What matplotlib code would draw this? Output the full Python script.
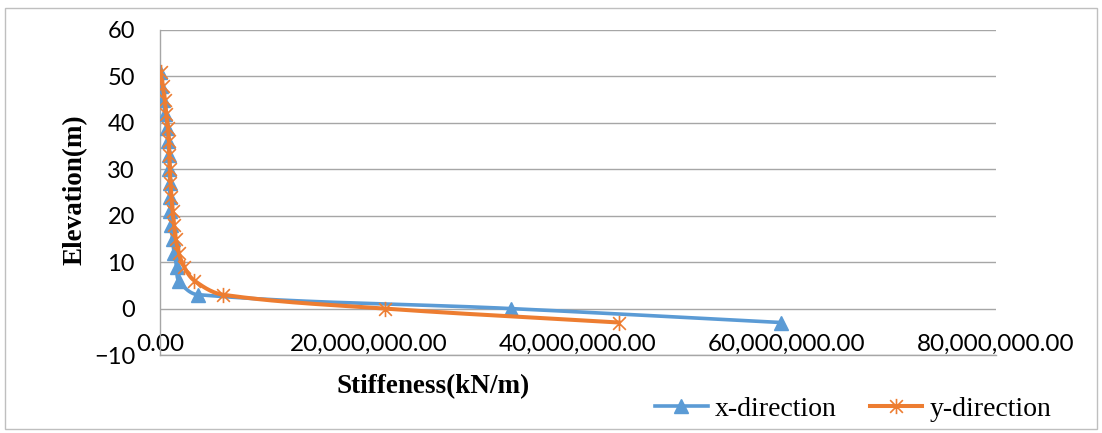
import matplotlib.pyplot as plt
import numpy as np
from matplotlib.path import Path
from matplotlib.patches import Rectangle
from matplotlib.ticker import FuncFormatter

# Elevation of each level (m)
elevation = [-3, 0, 3, 6, 9, 12, 15, 18, 21, 24, 27, 30, 33, 36, 39, 42, 45, 48, 51]

# Stiffness (kN/m)
x_dir = [59.4e6, 33.6e6, 3.6e6, 1.8e6, 1.6e6, 1.35e6, 1.2e6, 1.1e6, 1.0e6, 0.95e6,
         0.93e6, 0.9e6, 0.85e6, 0.8e6, 0.7e6, 0.5e6, 0.3e6, 0.1e6, 0.0]
y_dir = [43.9e6, 21.5e6, 6.0e6, 3.3e6, 2.3e6, 1.8e6, 1.5e6, 1.35e6, 1.2e6, 1.1e6,
         1.0e6, 0.95e6, 0.9e6, 0.85e6, 0.75e6, 0.6e6, 0.45e6, 0.25e6, 0.05e6]

x_ticks = [0, 20e6, 40e6, 60e6, 80e6]
y_ticks = [-10, 0, 10, 20, 30, 40, 50, 60]

BLUE = '#5B9BD5'
ORANGE = '#ED7D31'
GRID = '#A6A6A6'

AX_W, AX_H = 836, 325  # plot area in pixels


def smooth(xs, ys, n=24):
    # Excel-like smoothed line, worked out in screen units
    kx = AX_W / 80e6
    ky = AX_H / 70.0
    p = np.column_stack([np.asarray(xs) * kx, np.asarray(ys) * ky])
    out = []
    for i in range(len(p) - 1):
        p0 = p[max(i - 1, 0)]
        p1 = p[i]
        p2 = p[i + 1]
        p3 = p[min(i + 2, len(p) - 1)]
        d = np.linalg.norm(p2 - p1) / 3
        t1 = p2 - p0
        t2 = p3 - p1
        c1 = p1 + t1 / (np.linalg.norm(t1) or 1) * d
        c2 = p2 - t2 / (np.linalg.norm(t2) or 1) * d
        t = np.linspace(0, 1, n)[:, None]
        seg = ((1 - t) ** 3) * p1 + 3 * ((1 - t) ** 2) * t * c1 + 3 * (1 - t) * t ** 2 * c2 + t ** 3 * p2
        out.append(seg)
    seg = np.vstack(out)
    return seg[:, 0] / kx, seg[:, 1] / ky


# asterisk marker: an X with a vertical bar
star = Path([(-1, -1), (1, 1), (-1, 1), (1, -1), (0, -1.2), (0, 1.2)],
            [Path.MOVETO, Path.LINETO, Path.MOVETO, Path.LINETO, Path.MOVETO, Path.LINETO])

fig = plt.figure(figsize=(11.02, 4.33), dpi=100)
ax = fig.add_axes([160 / 1102, 1 - 355 / 433, AX_W / 1102, AX_H / 433])

sx, sy = smooth(x_dir, elevation)
ax.plot(sx, sy, color=BLUE, lw=2.6, zorder=3)
ax.plot(x_dir, elevation, ls='none', marker='^', ms=10, color=BLUE, zorder=4)

sx, sy = smooth(y_dir, elevation)
ax.plot(sx, sy, color=ORANGE, lw=2.9, zorder=5)
ax.plot(y_dir, elevation, ls='none', marker=star, ms=11, mew=1.2,
        color=ORANGE, mfc='none', zorder=6)

ax.set_xlim(0, 80e6)
ax.set_ylim(-10, 60)
ax.set_xticks(x_ticks)
ax.set_yticks(y_ticks)
ax.xaxis.set_major_formatter(FuncFormatter(lambda v, _: '{:,.2f}'.format(v)))
ax.grid(axis='y', color=GRID, lw=1)
ax.set_axisbelow(True)
for s in ['top', 'right']:
    ax.spines[s].set_visible(False)
for s in ['left', 'bottom']:
    ax.spines[s].set_color(GRID)
    ax.spines[s].set_linewidth(1)
ax.tick_params(axis='y', length=0, pad=18, labelsize=17)
ax.tick_params(axis='x', length=0, pad=-15, labelsize=17.5)
for lab in ax.get_xticklabels() + ax.get_yticklabels():
    lab.set_fontfamily('Lato')

fig.text(433 / 1102, 1 - 387 / 433, 'Stiffeness(kN/m)', family='Liberation Serif',
         weight='bold', fontsize=19.5, ha='center', va='center')
fig.text(75 / 1102, 1 - 190 / 433, 'Elevation(m)', family='Liberation Serif',
         weight='bold', fontsize=19.5, ha='center', va='center', rotation=90)

h1 = plt.Line2D([], [], color=BLUE, lw=2.6, marker='^', ms=10)
h2 = plt.Line2D([], [], color=ORANGE, lw=2.9, marker=star, ms=11, mfc='none', mew=1.2)
fig.legend([h1, h2], ['x-direction', 'y-direction'], loc='center',
           bbox_to_anchor=(853 / 1102, 1 - 409 / 433), ncol=2, frameon=False,
           prop={'family': 'Liberation Serif', 'size': 20},
           handlelength=1.9, handletextpad=0.25, columnspacing=1.2)

fig.patches.append(Rectangle((5 / 1102, 4 / 433), 1092 / 1102, 421 / 433,
                             transform=fig.transFigure, fill=False,
                             edgecolor='#BFBFBF', lw=1))

fig.savefig('out.png', dpi=100)
